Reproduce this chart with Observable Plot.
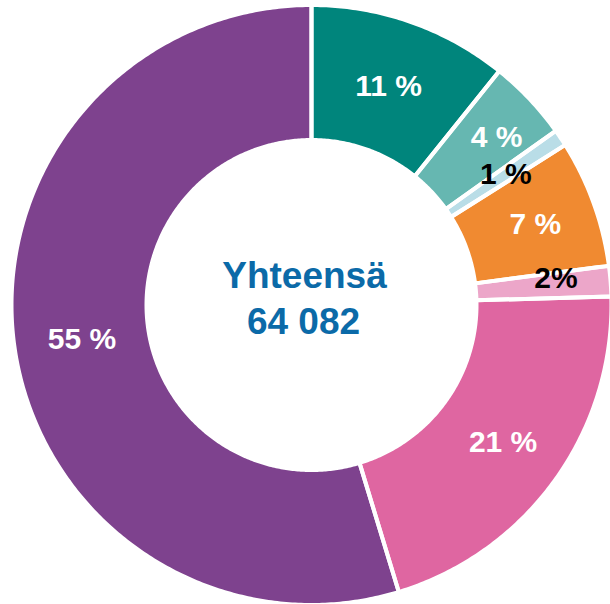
<!DOCTYPE html>
<html>
<head>
<meta charset="utf-8">
<script src="https://cdn.jsdelivr.net/npm/d3@7"></script>
<script src="https://cdn.jsdelivr.net/npm/@observablehq/plot@0.6"></script>
<style>
  html, body { margin: 0; padding: 0; background: #fff; }
  #chart svg { display: block; }
</style>
</head>
<body>
<div id="chart"></div>
<script>
// Data
const categories = ["A", "B", "C", "D", "E", "F", "G"];
const values = [6900, 2800, 580, 4400, 1050, 13300, 35052];
const labels = ["11 %", "4 %", "1 %", "7 %", "2%", "21 %", "55 %"];
const colors = ["#00857c", "#66b7b1", "#b9dde7", "#f08a31", "#eca6c9", "#df66a1", "#7e428e"];
const labelColors = ["#fff", "#fff", "#000", "#fff", "#000", "#fff", "#fff"];
const totalTitle = "Yhteensä";
const totalValue = "64 082";

// Layout
const W = 610, H = 604;
const cx = 311, cy = 304.5;
const R_OUT = 300, R_IN = 165;
const labelR = [232, 250, 234, 238, 246, 236, 232];
const labelDA = [0, 0.02, 0, 0, -0.03, 0, 0];

const pie = d3.pie().sort(null).value(d => d)(values);

const poly = [];
pie.forEach((p, i) => {
  const a0 = p.startAngle, a1 = p.endAngle;
  const n = Math.max(4, Math.ceil((a1 - a0) / 0.01));
  const pts = [];
  for (let k = 0; k <= n; k++) {
    const a = a0 + (a1 - a0) * k / n;
    pts.push([R_OUT * Math.sin(a), R_OUT * Math.cos(a)]);
  }
  for (let k = n; k >= 0; k--) {
    const a = a0 + (a1 - a0) * k / n;
    pts.push([R_IN * Math.sin(a), R_IN * Math.cos(a)]);
  }
  pts.push(pts[0]);
  pts.forEach(([x, y]) => poly.push({cat: categories[i], x, y}));
});

const labelData = pie.map((p, i) => {
  const a = (p.startAngle + p.endAngle) / 2 + labelDA[i];
  return {label: labels[i], color: labelColors[i], x: labelR[i] * Math.sin(a), y: labelR[i] * Math.cos(a)};
});

const font = "'Liberation Sans', Arial, Helvetica, sans-serif";

const chart = Plot.plot({
  width: W,
  height: H,
  margin: 0,
  x: {domain: [-cx, W - cx], axis: null},
  y: {domain: [-(H - cy), cy], axis: null},
  color: {domain: categories, range: colors},
  style: {fontFamily: font, background: "#fff"},
  marks: [
    Plot.line(poly, {x: "x", y: "y", z: "cat", fill: "cat", stroke: null, curve: "linear"}),
    Plot.line(poly, {x: "x", y: "y", z: "cat", fill: "none", stroke: "#fff", strokeWidth: 4, curve: "linear"}),
    Plot.text(labelData, {x: "x", y: "y", text: "label", fill: "color", fontSize: 30, fontWeight: "bold", textAnchor: "middle", lineAnchor: "middle"}),
    Plot.text([totalTitle], {x: -7, y: 29, text: d => d, fill: "#0b6aa8", fontSize: 37, fontWeight: "bold", textAnchor: "middle", lineAnchor: "middle"}),
    Plot.text([totalValue], {x: -8, y: -17, text: d => d, fill: "#0b6aa8", fontSize: 37, fontWeight: "bold", textAnchor: "middle", lineAnchor: "middle"})
  ]
});

document.getElementById("chart").appendChild(chart);
</script>
</body>
</html>
